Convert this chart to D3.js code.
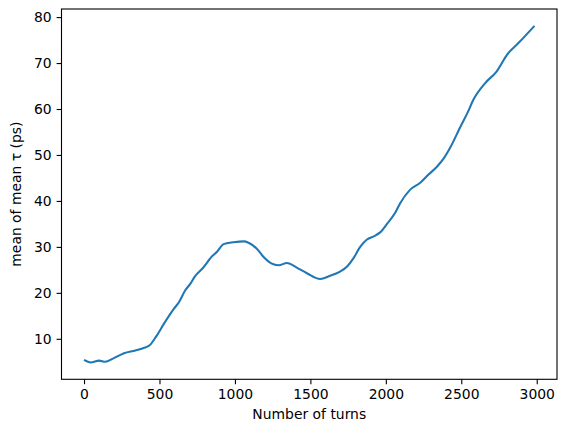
<!DOCTYPE html>
<html>
<head>
<meta charset="utf-8">
<script src="https://cdn.jsdelivr.net/npm/d3@7"></script>
<style>
  html, body { margin: 0; padding: 0; background: #fff; }
  svg { display: block; font-family: "DejaVu Sans", sans-serif; }
</style>
</head>
<body>
<svg id="chart" width="566" height="432"></svg>
<script>
const turns = [0, 45, 100, 140, 195, 265, 340, 395, 435, 475, 530, 595, 630, 670, 705, 735, 785, 850, 880, 925, 990, 1060, 1090, 1145, 1190, 1255, 1290, 1345, 1410, 1480, 1565, 1630, 1690, 1745, 1785, 1830, 1875, 1920, 1960, 2010, 2065, 2095, 2160, 2230, 2285, 2340, 2385, 2425, 2495, 2540, 2580, 2660, 2735, 2805, 2880, 2985];
const meanTau = [5.4, 4.85, 5.25, 5.0, 5.75, 6.85, 7.45, 8.0, 8.6, 10.35, 13.3, 16.5, 18.0, 20.5, 22.0, 23.6, 25.3, 28.0, 28.9, 30.6, 31.0, 31.2, 30.9, 29.6, 27.8, 26.2, 26.0, 26.5, 25.5, 24.2, 23.0, 23.7, 24.5, 25.8, 27.5, 30.0, 31.6, 32.3, 33.1, 35.1, 37.6, 39.5, 42.4, 44.0, 45.8, 47.5, 49.3, 51.5, 56.2, 59.1, 62.0, 65.7, 68.2, 71.9, 74.4, 78.1];
const xTicks = [0, 500, 1000, 1500, 2000, 2500, 3000];
const yTicks = [10, 20, 30, 40, 50, 60, 70, 80];
const xLabel = "Number of turns";
const yLabel = "mean of mean τ (ps)";

const data = turns.map((t, i) => ({ t, v: meanTau[i] }));

const svg = d3.select("#chart");
const L = 61.5, R = 557, T = 9, B = 379.3;

function padded(ext) {
  const d = (ext[1] - ext[0]) * 0.05;
  return [ext[0] - d, ext[1] + d];
}
const x = d3.scaleLinear().domain(padded(d3.extent(turns))).range([L, R]);
const y = d3.scaleLinear().domain(padded(d3.extent(meanTau))).range([B, T]);

const fontSize = 13.9;

// line
svg.append("path")
  .datum(data)
  .attr("fill", "none")
  .attr("stroke", "#1f77b4")
  .attr("stroke-width", 2.08)
  .attr("stroke-linejoin", "round")
  .attr("stroke-linecap", "butt")
  .attr("d", d3.line().x(d => x(d.t)).y(d => y(d.v)).curve(d3.curveMonotoneX));

// axes
const xAxis = d3.axisBottom(x).tickValues(xTicks).tickSize(4.9).tickPadding(4.9).tickFormat(d3.format("d"));
const yAxis = d3.axisLeft(y).tickValues(yTicks).tickSize(4.9).tickPadding(4.9).tickFormat(d3.format("d"));

const gx = svg.append("g").attr("transform", `translate(0,${B})`).call(xAxis);
const gy = svg.append("g").attr("transform", `translate(${L},0)`).call(yAxis);
[gx, gy].forEach(g => {
  g.select(".domain").remove();
  g.selectAll(".tick line").attr("stroke", "#000").attr("stroke-width", 1.1);
  g.selectAll(".tick text").attr("fill", "#000").attr("font-size", fontSize).attr("font-family", "DejaVu Sans");
});

// frame
svg.append("rect")
  .attr("x", L).attr("y", T).attr("width", R - L).attr("height", B - T)
  .attr("fill", "none").attr("stroke", "#000").attr("stroke-width", 1.1);

// labels
svg.append("text")
  .attr("x", (L + R) / 2).attr("y", 419)
  .attr("text-anchor", "middle")
  .attr("font-size", fontSize).attr("fill", "#000")
  .text(xLabel);

svg.append("text")
  .attr("transform", `translate(21,${(T + B) / 2}) rotate(-90)`)
  .attr("text-anchor", "middle")
  .attr("font-size", fontSize).attr("fill", "#000")
  .text(yLabel);
</script>
</body>
</html>
